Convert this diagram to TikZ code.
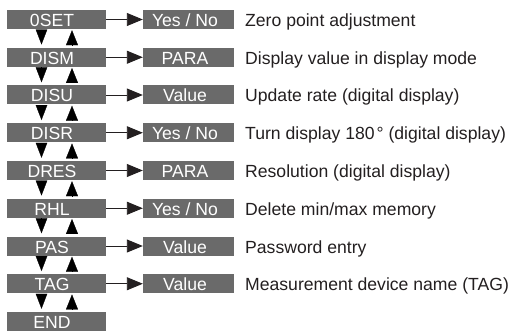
\documentclass[tikz,border=0pt]{standalone}
\usepackage{fontspec}
\setmainfont{Liberation Sans}
\usetikzlibrary{arrows.meta}
\definecolor{boxgray}{RGB}{106,106,106}
\definecolor{txt}{RGB}{35,31,32}
\begin{document}
\begin{tikzpicture}[x=1pt,y=-1pt,
  font=\fontsize{17.6}{20}\selectfont,
  box/.style={fill=boxgray,text=white,inner sep=0pt,minimum height=19pt,text height=14pt,text depth=0pt},
  lbox/.style={box,minimum width=99pt,execute at end node={\kern9pt}},
  vbox/.style={box,minimum width=91pt,execute at end node={\kern7pt}},
  desc/.style={anchor=base west,inner sep=0pt,text=txt},
  rightarr/.style={draw=txt,line width=0.9pt,-{Triangle[length=16pt,width=13pt]}},
  downarr/.style={draw=black,fill=black,line width=0.3pt,-{Triangle[length=15pt,width=11.5pt]},shorten <=1pt,shorten >=3pt},
  uparr/.style={draw=black,fill=black,line width=0.3pt,-{Triangle[length=15pt,width=12pt]},shorten <=3pt,shorten >=1pt}]
\useasboundingbox (0,0) rectangle (510,331);
\node[lbox] (l0) at (56.5,19.5) {0SET};
\node[lbox] (l1) at (56.5,57.25) {DISM};
\node[lbox] (l2) at (56.5,95) {DISU};
\node[lbox] (l3) at (56.5,132.75) {DISR};
\node[lbox] (l4) at (56.5,170.5) {DRES};
\node[lbox] (l5) at (56.5,208.25) {RHL};
\node[lbox] (l6) at (56.5,246) {PAS};
\node[lbox] (l7) at (56.5,283.75) {TAG};
\node[lbox] (l8) at (56.5,321.5) {END};
\node[vbox] (v0) at (188.5,19.5) {Yes / No};
\node[vbox] (v1) at (188.5,57.25) {PARA};
\node[vbox] (v2) at (188.5,95) {Value};
\node[vbox] (v3) at (188.5,132.75) {Yes / No};
\node[vbox] (v4) at (188.5,170.5) {PARA};
\node[vbox] (v5) at (188.5,208.25) {Yes / No};
\node[vbox] (v6) at (188.5,246) {Value};
\node[vbox] (v7) at (188.5,283.75) {Value};
\node[desc] (d0) at (245,26.5) {Zero point adjustment};
\node[desc] (d1) at (245,64.25) {Display value in display mode};
\node[desc] (d2) at (245,102) {Update rate (digital display)};
\node[desc] (d3) at (245,139.75) {Turn display 180\kern2pt° (digital display)};
\node[desc] (d4) at (245,177.5) {Resolution (digital display)};
\node[desc] (d5) at (245,215.25) {Delete min/max memory};
\node[desc] (d6) at (245,253) {Password entry};
\node[desc] (d7) at (245,290.75) {Measurement device name (TAG)};
\foreach \i in {0,...,7} {
  \pgfmathtruncatemacro{\j}{\i+1}
  \draw[rightarr] (l\i.east) -- (v\i.west);
  \draw[downarr] ([xshift=-15pt]l\i.south) -- ([xshift=-15pt]l\j.north);
  \draw[uparr] ([xshift=15.5pt]l\j.north) -- ([xshift=15.5pt]l\i.south);
}
\end{tikzpicture}
\end{document}
